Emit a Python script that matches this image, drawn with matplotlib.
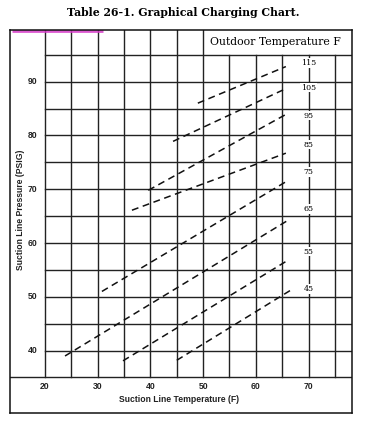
import numpy as np
import matplotlib.pyplot as plt

# outdoor temperature lines: (start temp, start psig) -> (end temp, end psig)
outdoor = ["115", "105", "95", "85", "75", "65", "55", "45"]
t_start = [49.0, 44.3, 39.6, 36.5, 30.8, 23.8, 34.8, 45.0]
p_start = [86.0, 78.9, 69.8, 66.1, 51.0, 39.0, 38.1, 38.2]
t_end = [65.7, 65.7, 65.7, 65.7, 65.9, 65.9, 66.1, 66.9]
p_end = [92.8, 88.7, 83.9, 76.7, 71.5, 64.1, 56.8, 51.4]
label_p = [93.5, 88.9, 83.7, 78.3, 73.2, 66.3, 58.4, 51.4]
label_t = 70

x_ticks = [20, 30, 40, 50, 60, 70]
y_ticks = [40, 50, 60, 70, 80, 90]
x_grid = np.arange(20, 80, 5)
y_grid = np.arange(40, 100, 5)

XMIN, XMAX = 13.36, 78.25
YMIN, YMAX = 28.4, 99.6
GRID_BOTTOM, GRID_TOP = 35, 95

fig = plt.figure(figsize=(3.65, 4.21), dpi=100)
ax = fig.add_axes([10/365, 8/421, 342/365, 383/421])
ax.set_xlim(XMIN, XMAX)
ax.set_ylim(YMIN, YMAX)
ax.set_xticks([])
ax.set_yticks([])
for s in ax.spines.values():
    s.set_linewidth(1.1)
    s.set_color("#111")

gc = "#222222"
# vertical grid lines; left of 50 they run to the top border
for x in x_grid:
    top = YMAX if x <= 50 else GRID_TOP
    ax.plot([x, x], [GRID_BOTTOM, top], color=gc, lw=1.0)
# horizontal grid lines
for y in y_grid:
    ax.plot([20, XMAX], [y, y], color=gc, lw=1.0)
ax.plot([XMIN, XMAX], [GRID_BOTTOM, GRID_BOTTOM], color=gc, lw=1.0)

# printing smudge at the top left
ax.plot([XMIN + 0.3, 31], [YMAX - 0.2, YMAX - 0.2], color="#d63cc8", lw=2.0,
        solid_capstyle="butt", alpha=0.85)

# dashed charging lines
for i in range(len(outdoor)):
    ax.plot([t_start[i], t_end[i]], [p_start[i], p_end[i]], color="#111",
            lw=1.1, dashes=(4.5, 3.0))
    ax.text(label_t, label_p[i], outdoor[i], ha="center", va="center",
            fontsize=5.8, family="DejaVu Serif",
            bbox=dict(facecolor="white", edgecolor="none", pad=0.6))

ax.text(63.8, 97.3, "Outdoor Temperature F", ha="center", va="center",
        fontsize=7.8, family="DejaVu Serif")

for y in y_ticks:
    ax.text(17.6, y, str(y), ha="center", va="center", fontsize=6.2,
            family="Liberation Sans", weight="bold", color="#222")
for x in x_ticks:
    ax.text(x, 33.3, str(x), ha="center", va="center", fontsize=6.2,
            family="Liberation Sans", weight="bold", color="#222")

ax.text(45.5, 31.0, "Suction Line Temperature (F)", ha="center", va="center",
        fontsize=6.2, family="Liberation Sans", weight="bold", color="#222")
ax.text(15.4, 66.2, "Suction Line Pressure (PSIG)", ha="center", va="center",
        rotation=90, fontsize=6.2, family="Liberation Sans", weight="bold",
        color="#222")

fig.text(0.503, 1 - 12/421, "Table 26-1. Graphical Charging Chart.",
         ha="center", va="center", fontsize=7.8, family="DejaVu Serif",
         weight="bold")

fig.savefig("out.png", dpi=100)
